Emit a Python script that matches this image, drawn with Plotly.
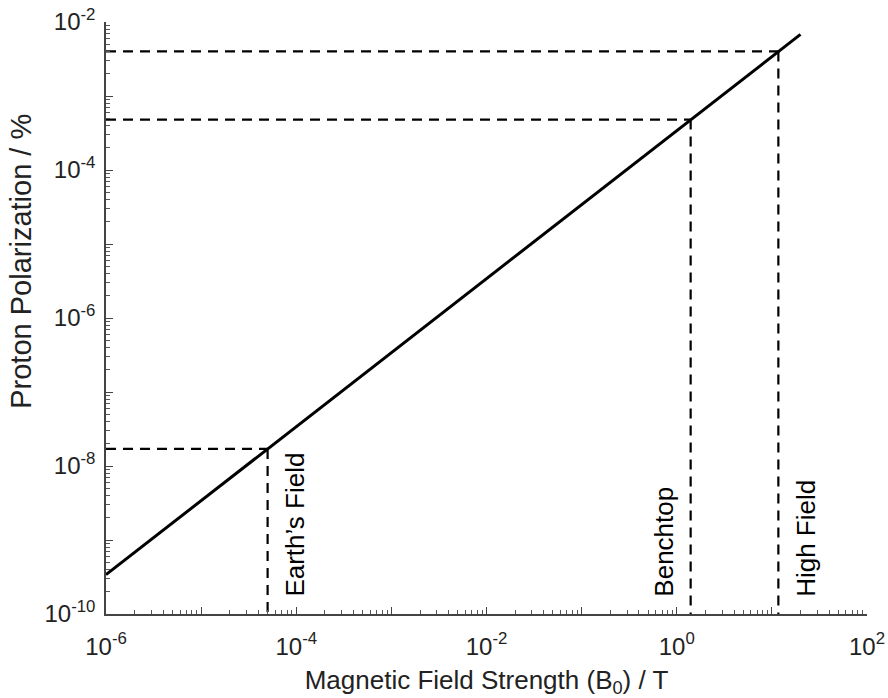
import math
import plotly.graph_objects as go

# Proton polarization versus magnetic field strength (log-log)
field_line = [1e-6, 20]                # T
polarization_line = [3.4e-10, 6.8e-3]  # %

# Reference field strengths and their polarization
marker_names = ["Earth\u2019s Field", "Benchtop", "High Field"]
marker_field = [5e-5, 1.4, 11.7]         # T
marker_pol = [1.7e-8, 4.8e-4, 4.0e-3]    # %
label_side = ["right", "left", "right"]

x_min, x_max = 1e-6, 1e2
y_min, y_max = 1e-10, 1e-2

x_tickvals = [1e-6, 1e-5, 1e-4, 1e-3, 1e-2, 1e-1, 1e0, 1e1, 1e2]
x_ticktext = ["10<sup>-6</sup>", "", "10<sup>-4</sup>", "", "10<sup>-2</sup>", "",
              "10<sup>0</sup>", "", "10<sup>2</sup>"]
y_tickvals = [1e-10, 1e-9, 1e-8, 1e-7, 1e-6, 1e-5, 1e-4, 1e-3, 1e-2]
y_ticktext = ["10<sup>-10</sup>", "", "10<sup>-8</sup>", "", "10<sup>-6</sup>", "",
              "10<sup>-4</sup>", "", "10<sup>-2</sup>"]

font_family = "Liberation Sans"
text_color = "#222222"
dash_style = dict(color="black", width=2.2, dash="10px,7px")

fig = go.Figure()

# Dashed guide lines: horizontal to the y axis, vertical down to the x axis
for b, p in zip(marker_field, marker_pol):
    fig.add_trace(go.Scatter(x=[x_min, b], y=[p, p], mode="lines",
                             line=dash_style, hoverinfo="skip", showlegend=False))
    fig.add_trace(go.Scatter(x=[b, b], y=[p, y_min], mode="lines",
                             line=dash_style, hoverinfo="skip", showlegend=False))

# Polarization line
fig.add_trace(go.Scatter(x=field_line, y=polarization_line, mode="lines",
                         line=dict(color="black", width=3), showlegend=False))

# Rotated labels beside each vertical guide (annotation x is log10 on a log axis)
for name, b, side in zip(marker_names, marker_field, label_side):
    fig.add_annotation(x=math.log10(b), xref="x", y=0, yref="paper", text=name,
                       showarrow=False, textangle=-90,
                       xanchor="left" if side == "right" else "right",
                       yanchor="bottom",
                       xshift=10 if side == "right" else -10, yshift=15,
                       font=dict(size=26, color="black", family=font_family))

# Y axis title, placed above the vertical centre of the axis
fig.add_annotation(x=0, xref="paper", xshift=-85, xanchor="center",
                   y=0.595, yref="paper", yanchor="middle",
                   text="Proton Polarization / %", showarrow=False, textangle=-90,
                   font=dict(size=29, color=text_color, family=font_family))

axis_common = dict(
    type="log", showgrid=False, zeroline=False, showline=True,
    linecolor="#444444", linewidth=1.5, mirror=False, automargin=False,
    ticks="inside", ticklen=7, tickwidth=1.2, tickcolor="#444444",
    tickfont=dict(size=24, color=text_color, family=font_family),
    minor=dict(ticks="inside", ticklen=4, tickwidth=1, tickcolor="#555555",
               dtick="D1", showgrid=False),
)

fig.update_xaxes(**axis_common, range=[-6, 2], tickmode="array",
                 tickvals=x_tickvals, ticktext=x_ticktext, ticklabelstandoff=10,
                 title=dict(text="Magnetic Field Strength (B<sub>0</sub>) / T",
                            font=dict(size=26, color=text_color, family=font_family),
                            standoff=16))
fig.update_yaxes(**axis_common, range=[-10, -2], tickmode="array",
                 tickvals=y_tickvals, ticktext=y_ticktext, ticklabelstandoff=4)

fig.update_layout(
    width=888, height=698,
    margin=dict(l=106, r=21, t=22, b=84),
    plot_bgcolor="white", paper_bgcolor="white",
    font=dict(family=font_family),
)

fig.write_html("out.html")
